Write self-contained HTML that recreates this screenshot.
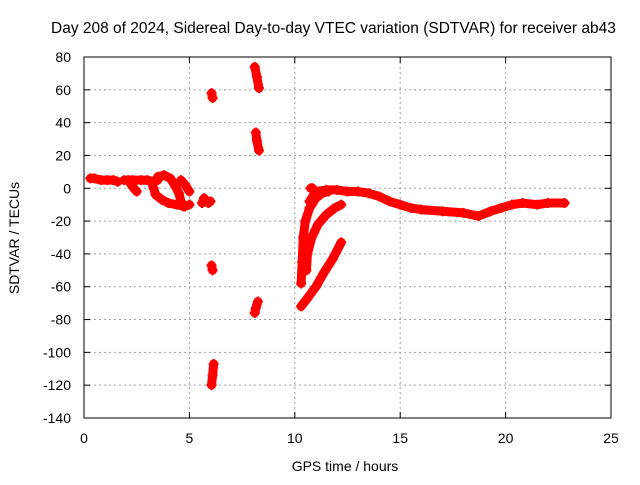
<!DOCTYPE html>
<html><head><meta charset="utf-8"><style>
body{margin:0;background:#fff;}
svg text{font-family:"Liberation Sans",sans-serif;font-size:14px;fill:#000;}
</style></head><body>
<svg id="chart" width="640" height="480" xmlns="http://www.w3.org/2000/svg">
<text x="51" y="33" style="font-size:15.5px">Day 208 of 2024, Sidereal Day-to-day VTEC variation (SDTVAR) for receiver ab43</text>
<text transform="translate(19,238) rotate(-90)" text-anchor="middle">SDTVAR / TECUs</text>
<text x="345" y="471" text-anchor="middle">GPS time / hours</text>
<g id="grid"></g><g id="marks"></g>
<rect x="84" y="57" width="527" height="361" fill="none" stroke="#000" stroke-width="1"/>
</svg>
<script>
const xTicks=[0,5,10,15,20,25];
const yTicks=[80,60,40,20,0,-20,-40,-60,-80,-100,-120,-140];
const seriesA=[[0.3,6],[0.5,6],[0.8,5],[1.1,5],[1.4,5],[1.6,4]];
const seriesB=[[1.9,5],[2.3,5],[2.7,5],[3.0,5],[3.3,4],[3.5,5]];
const seriesB2=[[2.1,5],[2.3,1],[2.5,-2]];
const seriesC=[[3.2,4],[3.3,0],[3.4,-4],[3.7,-7],[4.0,-9],[4.4,-10],[4.8,-11],[5.0,-10]];
const seriesD=[[3.5,7],[3.8,8],[4.1,6],[4.3,2],[4.5,-3],[4.6,-8],[4.7,-11]];
const seriesE=[[4.6,5],[4.8,2],[5.0,-2]];
const seriesF=[[5.6,-9],[5.7,-6],[5.8,-8],[5.9,-9],[6.0,-8]];
const spike1=[[6.05,58],[6.1,55]];
const spike2=[[6.05,-47],[6.1,-50]];
const spike3=[[6.15,-107],[6.1,-114],[6.05,-120]];
const spike4=[[8.1,74],[8.2,68],[8.3,61]];
const spike5=[[8.15,34],[8.2,29],[8.3,23]];
const spike6=[[8.25,-69],[8.15,-73],[8.1,-76]];
const seriesG1=[[10.3,-58],[10.35,-45],[10.4,-30],[10.5,-20],[10.7,-12],[11.0,-6],[11.3,-3],[11.6,-2]];
const seriesG2=[[10.55,-50],[10.6,-40],[10.8,-30],[11.1,-22],[11.5,-16],[11.9,-12],[12.2,-10]];
const seriesG3=[[10.3,-72],[10.6,-67],[11.0,-60],[11.4,-51],[11.8,-43],[12.2,-33]];
const seriesG4=[[10.75,0],[10.85,0]];
const seriesH=[[10.7,-8],[11.0,-2],[11.5,-1],[12.0,-1],[12.5,-2],[13.0,-2],[13.5,-3],[14.0,-5],[14.5,-8],[15.0,-10],[15.5,-12],[16.0,-13],[17.0,-14],[18.0,-15],[18.7,-17],[19.3,-14],[19.8,-12],[20.3,-10],[20.8,-9],[21.5,-10],[22.0,-9],[22.8,-9]];
const allSeries=[seriesA,seriesB,seriesB2,seriesC,seriesD,seriesE,seriesF,spike1,spike2,spike3,spike4,spike5,spike6,seriesG1,seriesG2,seriesG3,seriesG4,seriesH];
const X0=84,X1=611,Y0=57,Y1=418;
function xs(v){return X0+(v-0)/(25-0)*(X1-X0);}
function ys(v){return Y0+(80-v)/(80-(-140))*(Y1-Y0);}
const NS="http://www.w3.org/2000/svg";
const grid=document.getElementById('grid'),marks=document.getElementById('marks');
function mk(t,a,p){const e=document.createElementNS(NS,t);for(const k in a)e.setAttribute(k,a[k]);p.appendChild(e);return e;}
xTicks.forEach(t=>{const x=xs(t);
 if(t>0&&t<25){const g=mk('line',{x1:x,x2:x,y1:Y0,y2:Y1,stroke:'#a0a0a0','stroke-dasharray':'2,3'},grid);
 
 }
 mk('line',{x1:x,x2:x,y1:Y1,y2:Y1-6,stroke:'#000'},grid);mk('line',{x1:x,x2:x,y1:Y0,y2:Y0+6,stroke:'#000'},grid);
 const l=mk('text',{x:x,y:443,'text-anchor':'middle'},grid);l.textContent=t;
 
 });
yTicks.forEach(t=>{const y=ys(t);
 if(t<80&&t>-140){const g=mk('line',{x1:X0,x2:X1,y1:y,y2:y,stroke:'#a0a0a0','stroke-dasharray':'2,3'},grid);
 
 }
 mk('line',{x1:X0,x2:X0+6,y1:y,y2:y,stroke:'#000'},grid);mk('line',{x1:X1,x2:X1-6,y1:y,y2:y,stroke:'#000'},grid);
 const l=mk('text',{x:71,y:y+5,'text-anchor':'end'},grid);l.textContent=t;
 
 });
allSeries.forEach(s=>{
 const pl=mk('polyline',{points:s.map(p=>xs(p[0])+','+ys(p[1])).join(' '),fill:'none',stroke:'#ff0000','stroke-width':9,'stroke-linejoin':'round','stroke-linecap':'round'},marks);
 
 
 s.forEach(p=>{const x=xs(p[0]),y=ys(p[1]);
  const m=mk('path',{d:`M${x-5},${y}H${x+5}M${x},${y-5}V${y+5}`,stroke:'#ff0000','stroke-width':2},marks);
  
  });
});
</script>
</body></html>
